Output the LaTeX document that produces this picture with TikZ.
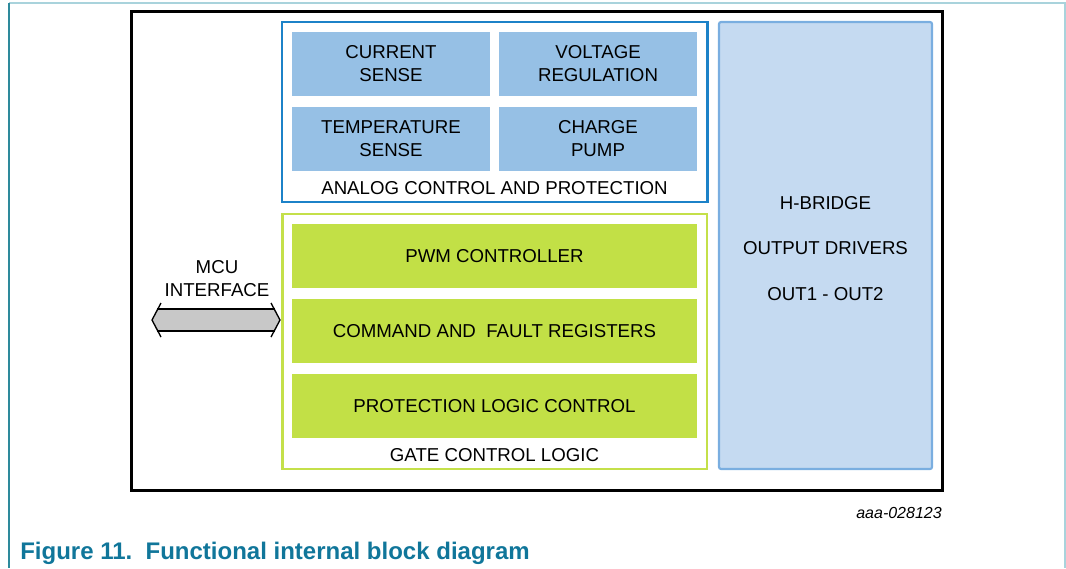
\documentclass[tikz,border=0pt]{standalone}
\usepackage{fontspec}
\setmainfont{Liberation Sans}
\definecolor{framel}{HTML}{2E8A9C}
\definecolor{framet}{HTML}{A9D3DC}
\definecolor{analogline}{HTML}{1C82C8}
\definecolor{analogfill}{HTML}{96C0E5}
\definecolor{gateline}{HTML}{C4E04A}
\definecolor{gatefill}{HTML}{C2E046}
\definecolor{bridgeline}{HTML}{7AAEE0}
\definecolor{bridgefill}{HTML}{C5DAF1}
\definecolor{captionc}{HTML}{10769A}
\definecolor{busfill}{HTML}{C8C8C8}
\tikzset{
  cellbox/.style={draw=none, fill=analogfill, minimum width=198*0.75pt,
    minimum height=64*0.75pt, align=center, inner sep=0pt,
    font=\fontsize{14}{17.25}\selectfont},
  gatebox/.style={draw=none, fill=gatefill, minimum width=405*0.75pt,
    minimum height=64*0.75pt, align=center, inner sep=0pt,
    font=\fontsize{14}{17.25}\selectfont},
  plaintext/.style={align=center, inner sep=0pt, font=\fontsize{14}{17.25}\selectfont}
}
\begin{document}
\begin{tikzpicture}[x=0.75pt,y=-0.75pt]
    \useasboundingbox (0,0) rectangle (1066,568);
    % page frame
    \draw [framet, line width=1.5pt] (9,2.5)--(1066,2.5);
    \draw [framet, line width=1.2pt] (1065,2.5)--(1065,568);
    \draw [framel, line width=1.2pt] (9,2.5)--(9,568);
    % outer device box
    \draw [line width=2.25pt] (131.5,11.5) rectangle (942,490);
    % analog control and protection
    \draw [analogline, line width=1.6pt] (282,22) rectangle (707.5,202);
    \node [cellbox] (cur) at (391,64) {CURRENT\\SENSE};
    \node [cellbox] (volt) at (598,64) {VOLTAGE\\REGULATION};
    \node [cellbox] (temp) at (391,139) {TEMPERATURE\\SENSE};
    \node [cellbox] (pump) at (598,139) {CHARGE\\PUMP};
    \node [plaintext] (analog) at (494.5,188) {ANALOG CONTROL AND PROTECTION};
    % gate control logic
    \draw [gateline, line width=1.9pt] (282.5,214) rectangle (707,469);
    \node [gatebox] (pwm) at (494.5,256) {PWM CONTROLLER};
    \node [gatebox] (cmd) at (494.5,331) {COMMAND AND\ \ FAULT REGISTERS};
    \node [gatebox] (prot) at (494.5,406) {PROTECTION LOGIC CONTROL};
    \node [plaintext] (gate) at (494.5,455) {GATE CONTROL LOGIC};
    % output stage
    \draw [bridgeline, fill=bridgefill, line width=1.6pt, rounded corners=1.5pt]
      (719,22) rectangle (932,469);
    \node [plaintext] (hb) at (825.5,203) {H-BRIDGE};
    \node [plaintext] (drv) at (825.5,248) {OUTPUT DRIVERS};
    \node [plaintext] (outs) at (825.5,294) {OUT1 - OUT2};
    % MCU interface bus
    \node [plaintext] (mcu) at (217,279) {MCU\\INTERFACE};
    \coordinate (busl) at (152,320);
    \coordinate (busr) at (280,320);
    \fill [busfill] (busl)--(157,309)--(275,309)--(busr)--(275,331)--(157,331)--cycle;
    \draw [line width=1pt] (157,309)--(275,309);
    \draw [line width=1pt] (157,331)--(275,331);
    \draw [line width=1pt] (161,303)--(busl)--(161,337);
    \draw [line width=1pt] (271,303)--(busr)--(271,337);
    % figure id and caption
    \node [anchor=east, inner sep=0pt, font=\fontsize{12}{14}\selectfont\itshape] (figid) at (942,513) {aaa-028123};
    \node [anchor=west, inner sep=0pt, text=captionc, font=\fontsize{18}{20}\selectfont\bfseries] (cap) at (20,553) {Figure 11.\ \ Functional internal block diagram};
  \end{tikzpicture}
\end{document}
